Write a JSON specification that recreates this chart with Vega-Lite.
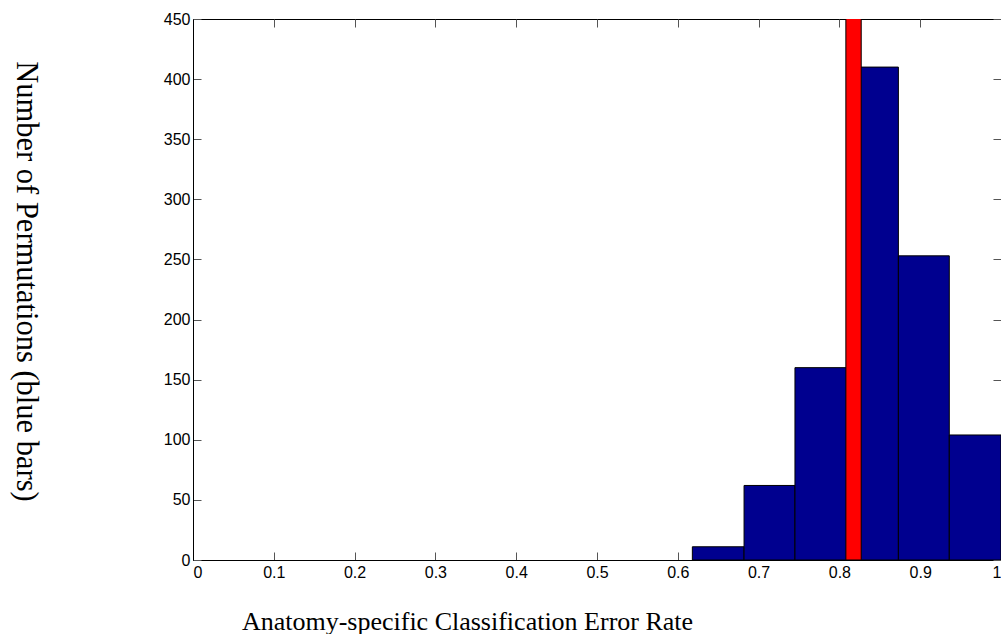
{
  "$schema": "https://vega.github.io/schema/vega-lite/v6.json",
  "autosize": {"type": "none"},
  "width": 808,
  "height": 541,
  "padding": {"left": 193, "top": 19, "right": 0, "bottom": 74},
  "background": "white",
  "config": {
    "view": {"stroke": "black", "strokeWidth": 1},
    "axis": {
      "grid": false,
      "domainColor": "black",
      "domainWidth": 1,
      "tickColor": "#555555",
      "tickWidth": 1,
      "tickSize": -8,
      "labelFont": "Liberation Sans",
      "labelFontSize": 16,
      "labelColor": "black",
      "titleFont": "Liberation Serif",
      "titleFontWeight": "normal",
      "titleColor": "black"
    }
  },
  "datasets": {
    "perm": [
      {"bin_start": 0.618, "bin_end": 0.682, "count": 11},
      {"bin_start": 0.682, "bin_end": 0.745, "count": 62},
      {"bin_start": 0.745, "bin_end": 0.809, "count": 160},
      {"bin_start": 0.809, "bin_end": 0.873, "count": 410},
      {"bin_start": 0.873, "bin_end": 0.936, "count": 253},
      {"bin_start": 0.936, "bin_end": 1.0, "count": 104}
    ],
    "observed": [
      {"bin_start": 0.808, "bin_end": 0.827, "count": 1000}
    ]
  },
  "layer": [
    {
      "data": {"name": "perm"},
      "mark": {"type": "rect", "color": "#00008f", "stroke": "black", "strokeWidth": 1, "clip": true},
      "encoding": {
        "x": {
          "field": "bin_start", "type": "quantitative",
          "scale": {"domain": [0, 1], "nice": false, "zero": false},
          "axis": {
            "orient": "bottom",
            "values": [0, 0.1, 0.2, 0.3, 0.4, 0.5, 0.6, 0.7, 0.8, 0.9, 1],
            "labelExpr": "datum.value == 0 ? '0' : datum.value == 1 ? '1' : format(datum.value, '.1f')",
            "labelPadding": 12,
            "title": "Anatomy-specific Classification Error Rate",
            "titleFontSize": 26,
            "titleAnchor": "start",
            "titleAlign": "center",
            "titleBaseline": "alphabetic",
            "titleX": 274,
            "titleY": 69
          }
        },
        "x2": {"field": "bin_end"},
        "y": {
          "field": "count", "type": "quantitative",
          "scale": {"domain": [0, 450], "nice": false},
          "axis": {
            "orient": "left",
            "values": [0, 50, 100, 150, 200, 250, 300, 350, 400, 450],
            "labelPadding": 11,
            "title": "Number of Permutations (blue bars)",
            "titleFontSize": 30.5,
            "titleAngle": 90,
            "titleAlign": "center",
            "titleBaseline": "alphabetic",
            "titleX": -177,
            "titleY": 262
          }
        },
        "y2": {"datum": 0}
      }
    },
    {
      "data": {"name": "observed"},
      "mark": {"type": "rect", "color": "#ff0000", "stroke": "black", "strokeWidth": 1, "clip": true},
      "encoding": {
        "x": {
          "field": "bin_start", "type": "quantitative",
          "axis": {
            "orient": "top", "labels": false, "domain": false,
            "values": [0, 0.1, 0.2, 0.3, 0.4, 0.5, 0.6, 0.7, 0.8, 0.9, 1],
            "title": null
          }
        },
        "x2": {"field": "bin_end"},
        "y": {
          "field": "count", "type": "quantitative",
          "axis": {
            "orient": "right", "labels": false, "domain": false,
            "values": [0, 50, 100, 150, 200, 250, 300, 350, 400, 450],
            "title": null
          }
        },
        "y2": {"datum": 0}
      }
    }
  ],
  "resolve": {"axis": {"x": "independent", "y": "independent"}}
}
